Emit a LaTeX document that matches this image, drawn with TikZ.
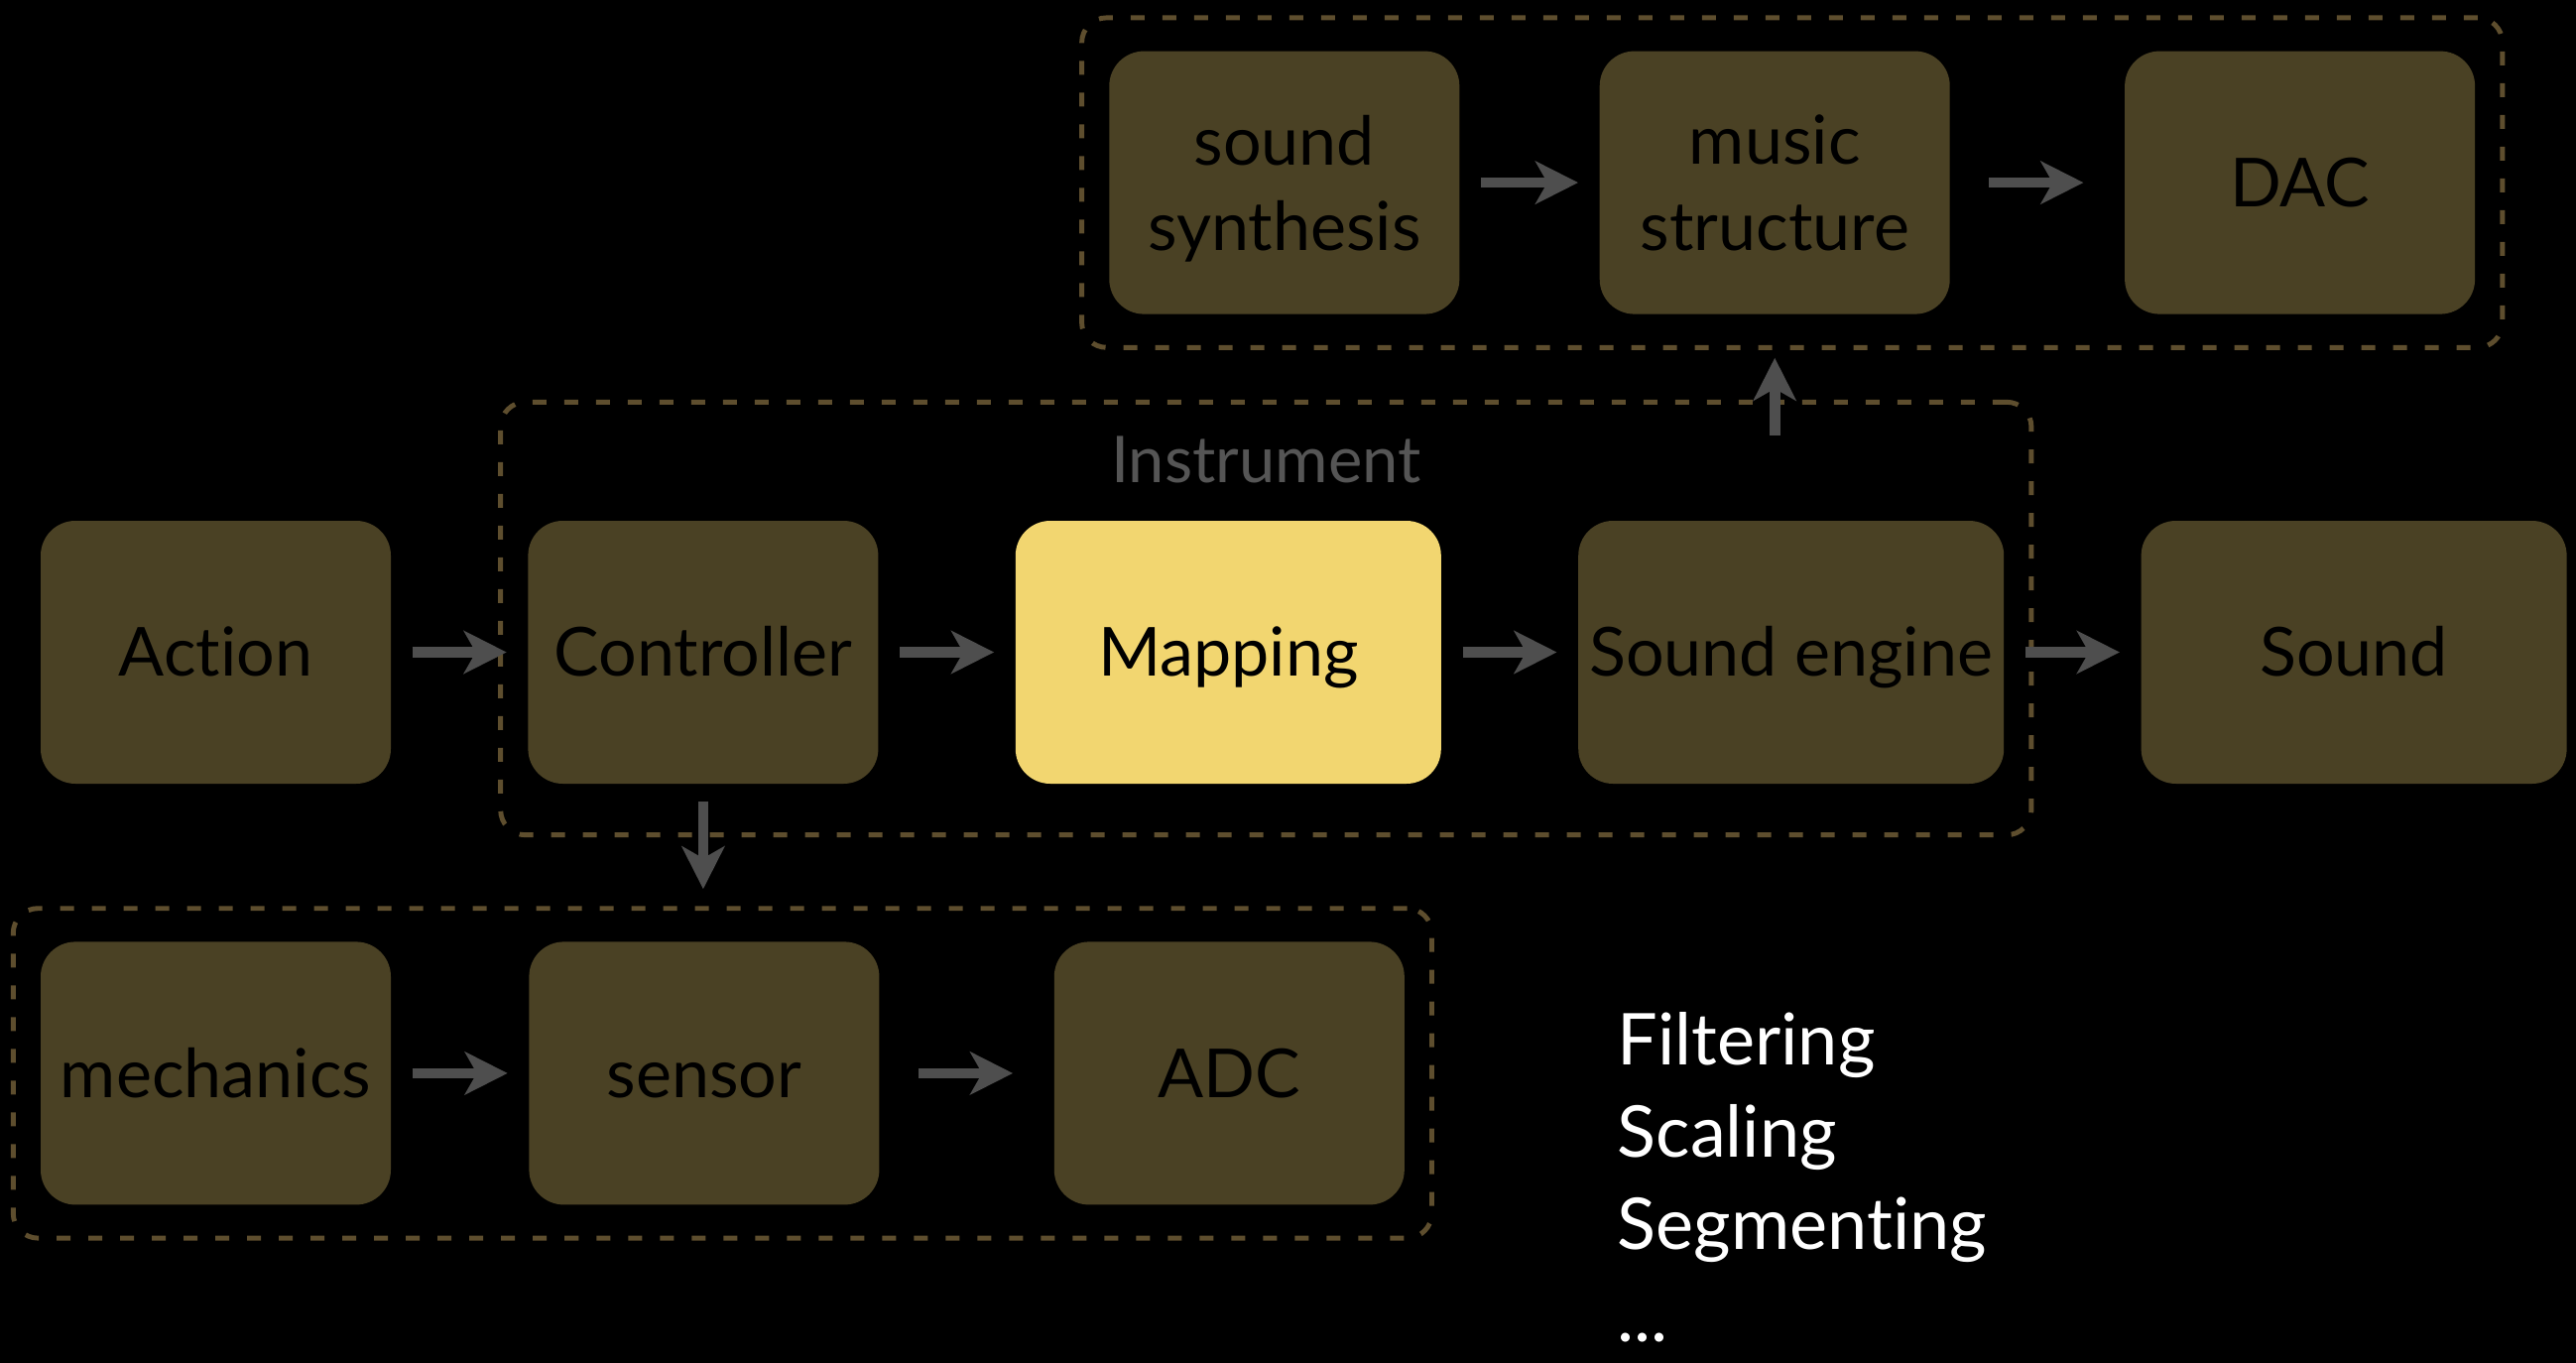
\documentclass[tikz,border=0pt]{standalone}
\usepackage{fontspec}
\setmainfont{Lato}[Ligatures=NoCommon]
\usetikzlibrary{arrows.meta,positioning,fit}
\definecolor{oliven}{HTML}{4A4124}
\definecolor{gul}{HTML}{F2D670}
\definecolor{brun}{HTML}{5E4E2E}
\definecolor{graa}{HTML}{4E4E4E}
\definecolor{lysgraa}{HTML}{555555}
\tikzset{
    %Define standard arrow tip
    >={Stealth[length=4.3mm,width=4.3mm,inset=1.2mm]},
    %Define style for boxes
    boks/.style={
           rectangle, rounded corners=3.5mm,
           fill=oliven,
           text=black,
           inner xsep=1pt,
           minimum width=3.53cm,
           minimum height=2.65cm,
           align=center, text depth=0pt,
           font=\fontsize{19.4}{24.5}\selectfont},
    enkel/.style={text height=13.9pt},
    brei/.style={minimum width=4.29cm},
    % Define arrow style
    pile/.style={
           ->,
           draw=graa, line width=3pt,
           shorten <=2.1mm,
           shorten >=2.1mm,},
    % Dashed frames round a group
    ramme/.style={
           draw=brun, line width=1.4pt, rounded corners=2.5mm,
           dash pattern=on 1.4mm off 1.8mm,
           inner xsep=2.7mm, inner ysep=3.3mm}
}

\begin{document}
\begin{tikzpicture}
\path[use as bounding box, fill=black] (0,0) rectangle (25.97,-13.74);
%Nodes
\node[boks, enkel] (action) at (2.175,-6.575) {Action};
\node[boks, enkel] (ctrl) [right=1.37cm of action] {Controller};
\node[boks, enkel, brei, fill=gul] (mapping) [right=1.37cm of ctrl] {Mapping};
\node[boks, enkel, brei] (engine) [right=1.37cm of mapping] {Sound engine};
\node[boks, enkel, brei] (sound) [right=1.37cm of engine] {Sound};

\node[boks] (synth) [above=2.07cm of mapping, xshift=5.65mm] {sound\\synthesis};
\node[boks] (music) [right=1.40cm of synth] {music\\structure};
\node[boks, enkel] (dac) [right=1.75cm of music] {DAC};

\node[boks, enkel] (mech) [below=1.58cm of action] {mechanics};
\node[boks, enkel] (sensor) [right=1.38cm of mech] {sensor};
\node[boks, enkel] (adc) [right=1.75cm of sensor] {ADC};

% Groups
\coordinate[above=0.68cm of mapping] (insttop);
\node[ramme, fit=(synth)(dac)] (synthgrp) {};
\node[ramme, fit=(ctrl)(engine)(insttop), inner ysep=5.1mm] (instgrp) {};
\node[ramme, fit=(mech)(adc)] (mechgrp) {};
\node[text=lysgraa, font=\fontsize{18.5}{22}\selectfont] (instlbl)
    at ([yshift=-6.1mm]instgrp.north) {Instrument};

% Arrows
\draw[pile] (action) -- (ctrl);
\draw[pile] (ctrl) -- (mapping);
\draw[pile] (mapping) -- (engine);
\draw[pile] (engine) -- (sound);
\draw[pile] (synth) -- (music);
\draw[pile, shorten <=3.9mm, shorten >=4.1mm] (music) -- (dac);
\draw[pile] (mech) -- (sensor);
\draw[pile, shorten <=3.9mm, shorten >=4.1mm] (sensor) -- (adc);
\draw[pile, shorten <=1.7mm, shorten >=1.7mm] (ctrl.south) -- (ctrl.south |- mechgrp.north);
\draw[pile, shorten <=-3.6mm, shorten >=0.8mm] (music |- instgrp.north) -- (music |- synthgrp.south);

% Side list
\node[text=white, align=left, anchor=base west, inner sep=0pt,
      font=\fontsize{20.5}{26.4}\selectfont] (steps) at (16.3,-13.52)
      {Filtering\\Scaling\\Segmenting\\...};
\end{tikzpicture}
\end{document}
